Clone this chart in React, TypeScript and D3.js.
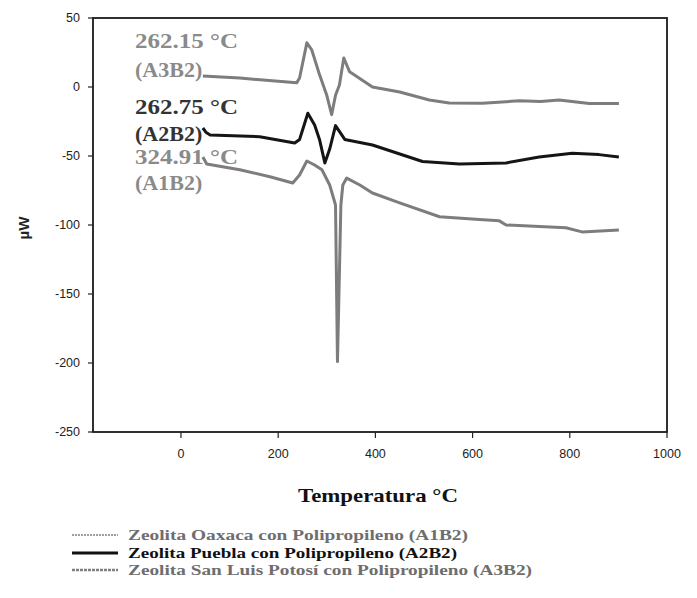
import React from 'react';
import * as d3 from 'd3';

// temperatures (°C) and heat flow (µW)
const tempA3 = [45, 121, 238, 244, 259, 269, 285, 300, 310, 318, 326, 335, 347, 394, 450, 511, 552, 620, 696, 740, 778, 840, 901];
const valA3 = [8, 6.5, 3, 6.5, 32, 27, 9, -6, -20, -6, 1.5, 21, 11, 0, -3.6, -9.4, -11.6, -11.8, -10, -10.5, -9.4, -12, -12];

const tempA2 = [45, 52, 60, 162, 234, 244, 261, 275, 285, 296, 306, 318, 337, 394, 497, 573, 669, 737, 805, 860, 901];
const valA2 = [-29.7, -33, -34.8, -36, -40.6, -38, -19, -27.5, -38, -55, -45, -28, -38, -42, -54, -55.8, -55, -50.7, -48, -49, -50.7];

const tempA1 = [45, 53, 121, 183, 230, 244, 259, 275, 290, 306, 318, 322, 329, 333, 341, 368, 394, 450, 532, 614, 655, 669, 792, 825, 901];
const valA1 = [-50.7, -55.8, -60, -65, -69.6, -63.8, -53.6, -56.5, -60, -71, -85.5, -199, -85.5, -71, -66, -71, -76.8, -84, -94, -96, -97, -100, -102, -105, -103.6];

const xTicks = [0, 200, 400, 600, 800, 1000];
const yTicks = [50, 0, -50, -100, -150, -200, -250];

const notes = [
  { line1: '262.15 °C', line2: '(A3B2)', color: '#8a8a8a' },
  { line1: '262.75 °C', line2: '(A2B2)', color: '#333333' },
  { line1: '324.91 °C', line2: '(A1B2)', color: '#8a8a8a' },
];

const legendLabels = [
  'Zeolita Oaxaca con Polipropileno (A1B2)',
  'Zeolita Puebla con Polipropileno (A2B2)',
  'Zeolita San Luis Potosí con Polipropileno (A3B2)',
];

const W = 697;
const H = 598;
const left = 93, right = 667, top = 18, bottom = 432;

const App = () => {
  const x = d3.scaleLinear().domain([-181, 1000]).range([left, right]);
  const y = d3.scaleLinear().domain([-250, 50]).range([bottom, top]);

  const line = d3.line<[number, number]>()
    .x(d => x(d[0]))
    .y(d => y(d[1]));

  const zip = (t: number[], v: number[]) => t.map((d, i) => [d, v[i]] as [number, number]);

  const series = [
    { pts: zip(tempA3, valA3), color: '#7d7d7d', width: 3 },
    { pts: zip(tempA2, valA2), color: '#151515', width: 3 },
    { pts: zip(tempA1, valA1), color: '#7d7d7d', width: 3 },
  ];

  const noteY = [[48, 77], [114, 141], [164, 190]];
  const legendStyles = [
    { color: '#808080', width: 1.5, dash: '2,1', text: '#6e6e6e', len: 340 },
    { color: '#111', width: 3, dash: undefined, text: '#111', len: 329 },
    { color: '#808080', width: 2.5, dash: '3,1', text: '#6e6e6e', len: 404 },
  ];
  const legendY = [535, 553, 570];

  return (
    <svg width={W} height={H} style={{ position: 'absolute', left: 0, top: 0, background: '#fff' }}>
      <rect x={0} y={0} width={W} height={H} fill="#fff" />

      {series.map((s, i) => (
        <path key={i} d={line(s.pts) || ''} fill="none" stroke={s.color} strokeWidth={s.width}
          strokeLinejoin="round" />
      ))}

      <rect x={left} y={top} width={right - left} height={bottom - top} fill="none" stroke="#1a1a1a" strokeWidth={1.8} />

      {yTicks.map(t => (
        <g key={t}>
          <line x1={left - 5} x2={left} y1={y(t)} y2={y(t)} stroke="#222" strokeWidth={1.2} />
          <text x={80} y={y(t) + 4} textAnchor="end" fontFamily="Arial, 'Liberation Sans'" fontSize={12.5} fill="#222">{t}</text>
        </g>
      ))}
      {xTicks.map(t => (
        <g key={t}>
          <line x1={x(t)} x2={x(t)} y1={bottom} y2={bottom + 6} stroke="#222" strokeWidth={1.2} />
          <text x={x(t)} y={458} textAnchor="middle" fontFamily="Arial, 'Liberation Sans'" fontSize={12.5} fill="#222">{t}</text>
        </g>
      ))}

      <text transform="translate(29,228) rotate(-90)" textAnchor="middle" fontFamily="Arial, 'Liberation Sans'"
        fontSize={15} fontWeight="bold" fill="#222">µW</text>

      <text x={298} y={502} fontFamily="'Liberation Serif', serif" fontSize={19} fontWeight="bold"
        fill="#111" textLength={160} lengthAdjust="spacingAndGlyphs">Temperatura °C</text>

      {notes.map((n, i) => (
        <g key={i} fontFamily="'Liberation Serif', serif" fontWeight="bold" fontSize={22} fill={n.color}>
          <text x={135} y={noteY[i][0]} textLength={103} lengthAdjust="spacingAndGlyphs">{n.line1}</text>
          <text x={135} y={noteY[i][1]}>{n.line2}</text>
        </g>
      ))}

      {legendLabels.map((l, i) => (
        <g key={i}>
          <line x1={72} x2={118} y1={legendY[i]} y2={legendY[i]} stroke={legendStyles[i].color}
            strokeWidth={legendStyles[i].width} strokeDasharray={legendStyles[i].dash} />
          <text x={128} y={legendY[i] + 5} fontFamily="'Liberation Serif', serif" fontWeight="bold" fontSize={15}
            fill={legendStyles[i].text} textLength={legendStyles[i].len} lengthAdjust="spacingAndGlyphs">{l}</text>
        </g>
      ))}
    </svg>
  );
};

export default App;
